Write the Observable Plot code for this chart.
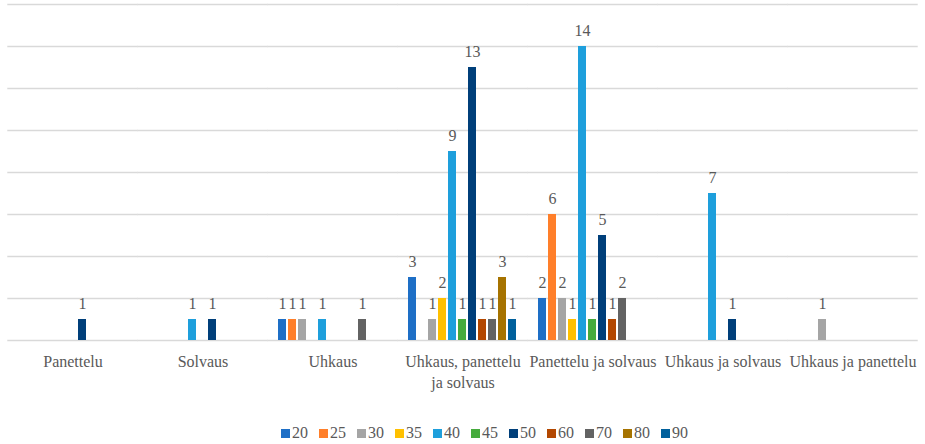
<!DOCTYPE html>
<html>
<head>
<meta charset="utf-8">
<script src="https://cdn.jsdelivr.net/npm/d3@7"></script>
<script src="https://cdn.jsdelivr.net/npm/@observablehq/plot@0.6"></script>
<style>
  html, body { margin: 0; padding: 0; background: #fff; }
  body { position: relative; width: 925px; height: 444px; overflow: hidden; font-family: 'Liberation Serif', serif; }
  svg text { font-family: 'Liberation Serif', serif !important; }
  #legend { position: absolute; top: 424px; left: 281px; display: flex; align-items: center; font-family: 'Liberation Serif', serif; font-size: 16px; color: #595959; white-space: nowrap; }
  #legend .item { display: flex; align-items: center; margin-right: 11px; }
  #legend .sw { width: 9px; height: 9px; margin-right: 2px; }
</style>
</head>
<body>
<div id="chart"></div>
<div id="legend"></div>
<script>
const categories = ["Panettelu", "Solvaus", "Uhkaus", "Uhkaus, panettelu ja solvaus", "Panettelu ja solvaus", "Uhkaus ja solvaus", "Uhkaus ja panettelu"];
const series = ["20", "25", "30", "35", "40", "45", "50", "60", "70", "80", "90"];
const colors = ["#1E6FC6", "#FF7F2A", "#A5A5A5", "#FFC000", "#1E9FDC", "#46AB3D", "#003F7A", "#B34700", "#636363", "#A67300", "#00609C"];

// values per series, in category order
const v20 = [null, null, 1, 3, 2, null, null];
const v25 = [null, null, 1, null, 6, null, null];
const v30 = [null, null, 1, 1, 2, null, 1];
const v35 = [null, null, null, 2, 1, null, null];
const v40 = [null, 1, 1, 9, 14, 7, null];
const v45 = [null, null, null, 1, 1, null, null];
const v50 = [1, 1, null, 13, 5, 1, null];
const v60 = [null, null, null, 1, 1, null, null];
const v70 = [null, null, 1, 1, 2, null, null];
const v80 = [null, null, null, 3, null, null, null];
const v90 = [null, null, null, 1, null, null, null];
const gridTicks = [0, 2, 4, 6, 8, 10, 12, 14, 16];

const seriesValues = [v20, v25, v30, v35, v40, v45, v50, v60, v70, v80, v90];
const data = [];
series.forEach((s, i) => {
  seriesValues[i].forEach((v, j) => {
    if (v != null) data.push({category: categories[j], series: s, value: v});
  });
});

const font = "'Liberation Serif', serif";
const wrap = d => d === "Uhkaus, panettelu ja solvaus" ? "Uhkaus, panettelu\nja solvaus" : d;

const chart = Plot.plot({
  width: 925,
  height: 410,
  marginLeft: 5,
  marginRight: 5,
  marginTop: 4,
  marginBottom: 70,
  style: {fontFamily: font, fontSize: "16px", color: "#595959", background: "#fff"},
  fx: {domain: categories, paddingInner: 0.116, paddingOuter: 0.058, label: null, axis: null},
  x: {domain: series, padding: 0.19, axis: null},
  y: {domain: [0, 16], axis: null},
  color: {domain: series, range: colors},
  marks: [
    Plot.ruleY(gridTicks, {stroke: "#d9d9d9", strokeWidth: 1.3, insetLeft: -7.7, insetRight: -7.7}),
    Plot.barY(data, {fx: "category", x: "series", y: "value", fill: "series"}),
    Plot.text(data, {fx: "category", x: "series", y: "value", text: d => String(d.value), dy: -16, fill: "#595959", fontSize: 16, fontFamily: font}),
    Plot.axisFx({anchor: "bottom", tickSize: 0, tickPadding: 11, tickFormat: wrap, label: null, fontSize: 16, fontFamily: font, lineHeight: 1.35, fill: "#595959"})
  ]
});
document.getElementById("chart").appendChild(chart);

const legend = d3.select("#legend");
series.forEach((s, i) => {
  const item = legend.append("div").attr("class", "item");
  item.append("div").attr("class", "sw").style("background", colors[i]);
  item.append("span").text(s);
});
</script>
</body>
</html>
